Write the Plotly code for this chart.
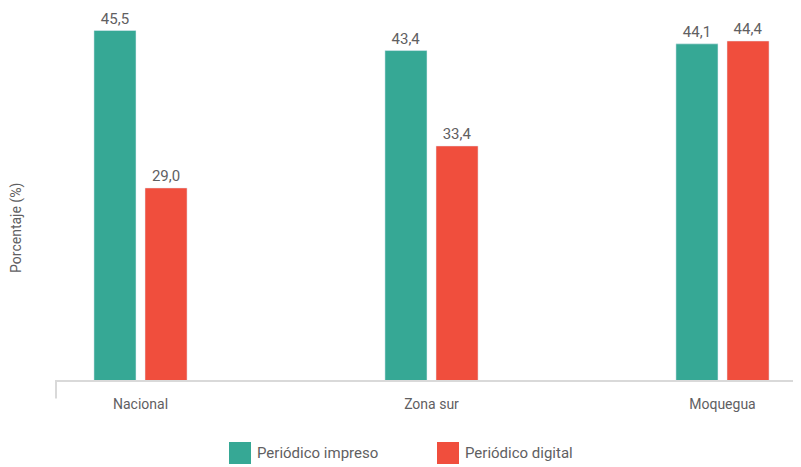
import plotly.graph_objects as go

categorias = ["Nacional", "Zona sur", "Moquegua"]
series = ["Periódico impreso", "Periódico digital"]
impreso = [45.5, 43.4, 44.1]
digital = [29.0, 33.4, 44.4]
colores = ["#36a895", "#f04e3d"]

fuente = "Roboto, Liberation Sans, sans-serif"
gris = "#5f6062"

def etiqueta(v):
    return f"{v:.1f}".replace(".", ",")

fig = go.Figure()
for nombre, valores, color, offset in [(series[0], impreso, colores[0], -0.16),
                                       (series[1], digital, colores[1], 0.0155)]:
    fig.add_trace(go.Bar(x=list(range(len(categorias))), y=valores, name=nombre,
                         marker_color=color, width=0.1445, offset=offset,
                         text=[etiqueta(v) for v in valores], textposition='outside',
                         textfont=dict(size=15, color=gris, family=fuente),
                         cliponaxis=False, showlegend=False))

# la página tiene 8px de margen, por eso el tamaño es 793x459
fig.update_layout(width=793, height=459, plot_bgcolor='white', paper_bgcolor='white',
                  margin=dict(l=48, r=0, t=2, b=87), font=dict(family=fuente, color=gris))
fig.update_xaxes(range=[-0.2904, 2.2698], tickvals=list(range(len(categorias))), ticktext=categorias,
                 showline=True, linecolor='#d9d9d9', linewidth=2, showgrid=False,
                 ticks='outside', ticklen=10, tickcolor='rgba(0,0,0,0)',
                 tickfont=dict(size=14, color=gris, family=fuente))
fig.update_yaxes(range=[8.87, 47.65], showticklabels=False, showgrid=False, zeroline=False)

# pequeño trazo vertical a la izquierda del eje
fig.add_shape(type='line', xref='paper', yref='paper', x0=0, x1=0, y0=0, y1=-0.05,
              line=dict(color='#d9d9d9', width=2))

fig.add_annotation(text="Porcentaje (%)", xref='paper', yref='paper', x=0, y=0.411,
                   xshift=-39, xanchor='center', yanchor='middle', textangle=-90, showarrow=False,
                   font=dict(size=14, color=gris, family=fuente))

# leyenda manual
for nombre, color, x0 in zip(series, colores, [229, 437]):
    fig.add_shape(type='rect', xref='paper', yref='paper',
                  x0=(x0 - 56) / 745, x1=(x0 + 22 - 56) / 745,
                  y0=(380 - 442) / 370, y1=(380 - 464) / 370,
                  fillcolor=color, line=dict(width=0))
    fig.add_annotation(text=nombre, xref='paper', yref='paper', x=(x0 + 26 - 56) / 745,
                       y=(380 - 453) / 370, xanchor='left', yanchor='middle', showarrow=False,
                       font=dict(size=15, color=gris, family=fuente))

fig.write_html("out.html")
